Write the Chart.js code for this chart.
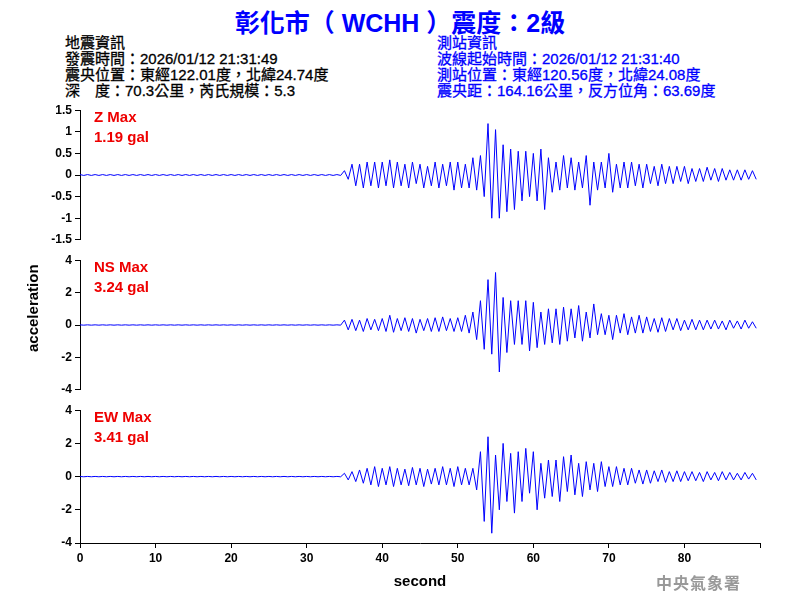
<!DOCTYPE html>
<html lang="zh-Hant">
<head>
<meta charset="UTF-8">
<title>彰化市 WCHH</title>
<script src="https://cdn.jsdelivr.net/npm/chart.js"></script>
<style>
  body { margin: 0; width: 800px; height: 600px; position: relative; background: #fff; font-family: "Liberation Sans", Arial, "Noto Sans CJK TC", sans-serif; overflow: hidden; }
  .t { position: absolute; white-space: nowrap; }
  #title { top: 3px; left: 0; width: 800px; text-align: center; color: #0000ff; font-size: 25px; font-weight: bold; }
  .hdr { font-size: 15px; line-height: 16px; -webkit-text-stroke: 0.3px; }
  .red { color: #ee0000; font-size: 15px; font-weight: bold; line-height: 20px; }
  canvas { position: absolute; left: 0; }
</style>
</head>
<body>
<div class="t" id="title">彰化市（ WCHH ）震度：2級</div>
<div class="t hdr" style="left:65px;top:35px;color:#000">地震資訊<br>發震時間：2026/01/12 21:31:49<br>震央位置：東經122.01度，北緯24.74度<br>深　度：70.3公里，芮氏規模：5.3</div>
<div class="t hdr" style="left:437px;top:35px;color:#0000ff">測站資訊<br>波線起始時間：2026/01/12 21:31:40<br>測站位置：東經120.56度，北緯24.08度<br>震央距：164.16公里，反方位角：63.69度</div>

<div style="position:absolute;left:0;top:0;width:800px;height:600px">
  <canvas id="cz" style="top:100px"></canvas>
  <canvas id="cn" style="top:250px"></canvas>
  <canvas id="ce" style="top:400px"></canvas>
</div>

<div class="t red" style="left:94px;top:107px">Z Max<br>1.19 gal</div>
<div class="t red" style="left:94px;top:257px">NS Max<br>3.24 gal</div>
<div class="t red" style="left:94px;top:407px">EW Max<br>3.41 gal</div>
<div class="t" style="transform:rotate(-90deg);transform-origin:0 0;font-size:15px;font-weight:bold;left:24px;top:352px">acceleration</div>
<div class="t" style="left:656px;top:570px;color:#999;font-size:16px;font-weight:bold;letter-spacing:1px;font-family:'Noto Sans CJK TC',serif">中央氣象署</div>

<script>
// per-second peaks (positive / negative), t = 0..89 s
const flat = 0.01;
const zHi = [
  flat,flat,flat,flat,flat,flat,flat,flat,flat,flat,flat,flat,flat,flat,flat,flat,flat,flat,flat,flat,
  flat,flat,flat,flat,flat,flat,flat,flat,flat,flat,flat,flat,flat,flat,flat,
  0.1,0.25,0.25,0.3,0.3,0.3,0.35,0.3,0.25,0.3,0.25,0.2,0.3,0.25,0.3,0.3,0.25,0.4,0.45,1.19,
  1.05,0.7,0.6,0.55,0.55,0.5,0.6,0.4,0.3,0.45,0.4,0.3,0.45,0.3,0.3,0.5,0.25,0.3,0.3,0.25,
  0.25,0.2,0.25,0.2,0.2,0.2,0.15,0.15,0.18,0.15,0.15,0.12,0.12,0.12,0.1
];
const zLo = [
  -flat,-flat,-flat,-flat,-flat,-flat,-flat,-flat,-flat,-flat,-flat,-flat,-flat,-flat,-flat,-flat,-flat,-flat,-flat,-flat,
  -flat,-flat,-flat,-flat,-flat,-flat,-flat,-flat,-flat,-flat,-flat,-flat,-flat,-flat,-flat,
  -0.1,-0.25,-0.3,-0.25,-0.3,-0.25,-0.3,-0.25,-0.3,-0.2,-0.3,-0.25,-0.3,-0.25,-0.35,-0.3,-0.3,-0.35,-0.5,-1.0,
  -1.0,-0.85,-0.8,-0.6,-0.5,-0.6,-0.8,-0.4,-0.35,-0.3,-0.35,-0.3,-0.7,-0.35,-0.3,-0.4,-0.3,-0.3,-0.25,-0.3,
  -0.2,-0.25,-0.2,-0.2,-0.15,-0.2,-0.15,-0.15,-0.12,-0.15,-0.12,-0.12,-0.12,-0.1,-0.1
];
const nsHi = [
  flat,flat,flat,flat,flat,flat,flat,flat,flat,flat,flat,flat,flat,flat,flat,flat,flat,flat,flat,flat,
  flat,flat,flat,flat,flat,flat,flat,flat,flat,flat,flat,flat,flat,flat,flat,
  0.3,0.35,0.3,0.4,0.35,0.4,0.6,0.4,0.45,0.4,0.35,0.4,0.45,0.5,0.4,0.45,0.6,0.8,1.5,2.8,
  3.24,1.7,1.5,1.5,1.5,1.4,0.8,1.0,1.0,1.1,1.0,1.2,0.8,1.3,0.7,0.6,0.6,0.7,0.5,0.6,
  0.5,0.4,0.45,0.4,0.4,0.3,0.35,0.3,0.3,0.3,0.25,0.3,0.25,0.3,0.2
];
const nsLo = [
  -flat,-flat,-flat,-flat,-flat,-flat,-flat,-flat,-flat,-flat,-flat,-flat,-flat,-flat,-flat,-flat,-flat,-flat,-flat,-flat,
  -flat,-flat,-flat,-flat,-flat,-flat,-flat,-flat,-flat,-flat,-flat,-flat,-flat,-flat,-flat,
  -0.3,-0.35,-0.4,-0.3,-0.35,-0.4,-0.45,-0.35,-0.4,-0.5,-0.35,-0.4,-0.4,-0.35,-0.4,-0.4,-0.5,-0.9,-1.5,-1.8,
  -2.9,-1.7,-1.2,-1.2,-1.6,-1.4,-1.2,-1.1,-1.2,-1.0,-0.8,-1.0,-0.8,-0.6,-0.6,-0.9,-0.5,-0.6,-0.5,-0.5,
  -0.4,-0.45,-0.4,-0.3,-0.35,-0.3,-0.3,-0.3,-0.25,-0.25,-0.3,-0.2,-0.25,-0.2,-0.2
];
const ewHi = [
  flat,flat,flat,flat,flat,flat,flat,flat,flat,flat,flat,flat,flat,flat,flat,flat,flat,flat,flat,flat,
  flat,flat,flat,flat,flat,flat,flat,flat,flat,flat,flat,flat,flat,flat,flat,
  0.2,0.3,0.4,0.5,0.6,0.5,0.6,0.5,0.45,0.55,0.5,0.45,0.5,0.6,0.5,0.6,0.5,0.5,1.5,2.4,
  1.3,2.0,1.4,1.5,1.7,1.5,0.8,1.0,1.0,1.2,1.3,0.8,0.9,0.8,0.9,0.6,0.6,0.5,0.5,0.4,
  0.4,0.35,0.4,0.3,0.35,0.3,0.3,0.25,0.3,0.25,0.3,0.25,0.2,0.25,0.2
];
const ewLo = [
  -flat,-flat,-flat,-flat,-flat,-flat,-flat,-flat,-flat,-flat,-flat,-flat,-flat,-flat,-flat,-flat,-flat,-flat,-flat,-flat,
  -flat,-flat,-flat,-flat,-flat,-flat,-flat,-flat,-flat,-flat,-flat,-flat,-flat,-flat,-flat,
  -0.2,-0.3,-0.4,-0.5,-0.6,-0.5,-0.6,-0.5,-0.55,-0.5,-0.6,-0.45,-0.5,-0.5,-0.6,-0.5,-0.5,-0.8,-2.7,-3.41,
  -2.0,-1.5,-2.2,-1.5,-1.0,-2.0,-1.3,-1.2,-1.5,-0.9,-1.1,-1.2,-0.8,-0.9,-0.6,-0.6,-0.5,-0.5,-0.4,-0.45,
  -0.4,-0.3,-0.35,-0.3,-0.3,-0.25,-0.25,-0.3,-0.2,-0.25,-0.2,-0.2,-0.2,-0.15,-0.2
];

function zigzag(hi, lo) {
  const pts = [];
  hi.forEach((v, i) => {
    pts.push({ x: i, y: v });
    pts.push({ x: i + 0.5, y: lo[i] });
  });
  return pts;
}

const tickFont = { family: "Liberation Sans, Arial", size: 12, weight: "bold" };

function makeChart(id, hi, lo, yMin, yMax, yStep, showX) {
  const c = document.getElementById(id);
  c.width = 770;
  c.height = showX ? 200 : 150;
  c.style.width = "770px";
  c.style.height = c.height + "px";
  new Chart(c, {
    type: "line",
    data: { datasets: [{ data: zigzag(hi, lo), borderColor: "#0000ff", borderWidth: 1, pointRadius: 0, tension: 0 }] },
    options: {
      responsive: false,
      animation: false,
      layout: { padding: { top: 7, right: 10, bottom: showX ? 9 : 8 } },
      plugins: { legend: { display: false }, tooltip: { enabled: false } },
      scales: {
        x: {
          type: "linear", min: 0, max: 90, display: showX,
          grid: { drawOnChartArea: false, color: "#000", tickLength: 5 },
          border: { color: "#000" },
          ticks: { stepSize: 10, color: "#000", font: tickFont, callback: v => v <= 80 ? v : "" },
          title: { display: true, text: "second", color: "#000", padding: { top: 2, bottom: 0 }, font: { family: "Liberation Sans, Arial", size: 15, weight: "bold" } },
          afterFit: s => { if (showX) s.height = 48; }
        },
        y: {
          min: yMin, max: yMax,
          grid: { drawOnChartArea: false, color: "#000", tickLength: 5 },
          border: { color: "#000" },
          ticks: { stepSize: yStep, color: "#000", font: tickFont, callback: v => String(Number(v.toFixed(2))) },
          afterFit: s => { s.width = 80; }
        }
      }
    }
  });
}

makeChart("cz", zHi, zLo, -1.5, 1.5, 0.5, false);
makeChart("cn", nsHi, nsLo, -4, 4, 2, false);
makeChart("ce", ewHi, ewLo, -4, 4, 2, true);
</script>
</body>
</html>
